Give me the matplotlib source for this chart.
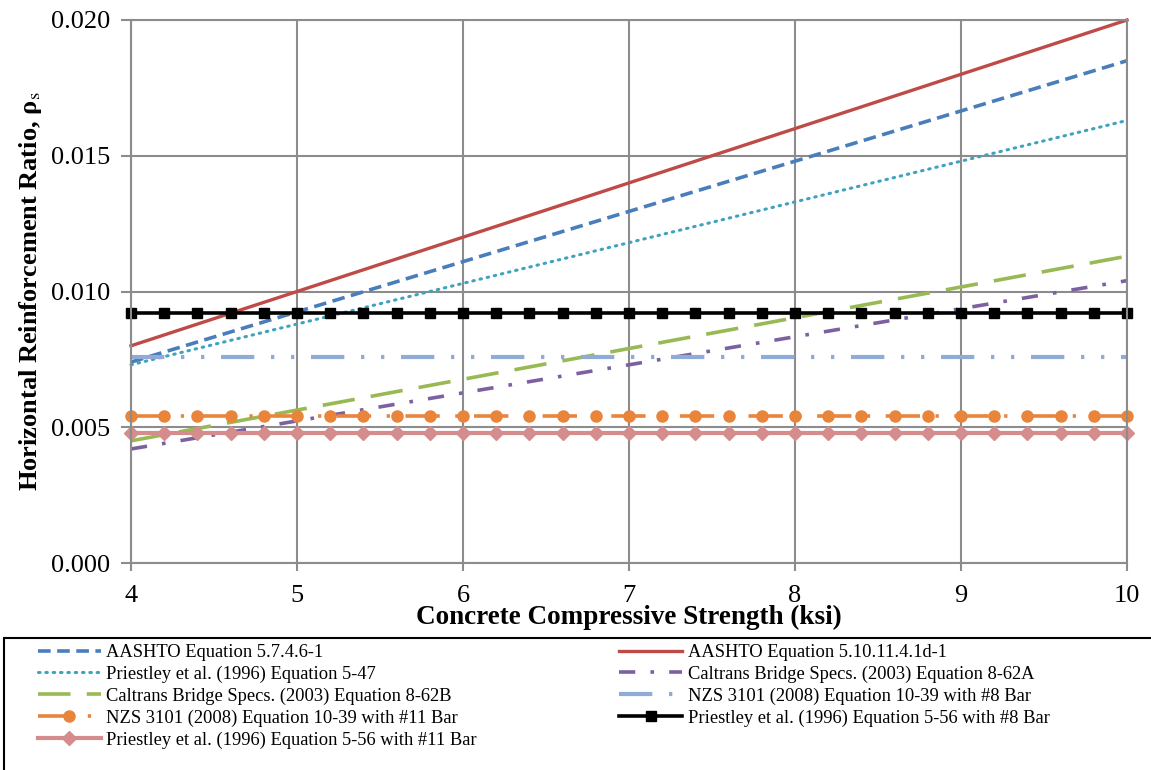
import numpy as np
import matplotlib
matplotlib.use('Agg')
from matplotlib import pyplot as plt
from matplotlib.patches import Rectangle

plt.rcParams['font.family'] = ['Liberation Serif', 'DejaVu Serif']
plt.rcParams['mathtext.fontset'] = 'stix'

# concrete strength (ksi), marker stations every 0.2 ksi
fc = [4.0, 4.2, 4.4, 4.6, 4.8, 5.0, 5.2, 5.4, 5.6, 5.8, 6.0, 6.2, 6.4, 6.6, 6.8, 7.0,
      7.2, 7.4, 7.6, 7.8, 8.0, 8.2, 8.4, 8.6, 8.8, 9.0, 9.2, 9.4, 9.6, 9.8, 10.0]
fc_ends = [4.0, 10.0]

# straight lines, read at f'c = 4 and 10 ksi
aashto_5746 = [0.0074, 0.0185]
aashto_5101 = [0.0080, 0.0200]
priestley_547 = [0.0073, 0.0163]
caltrans_62a = [0.0042, 0.0104]
caltrans_62b = [0.0045, 0.0113]

# constant lines
nzs_8 = [0.0076] * len(fc)
nzs_11 = [0.0054] * len(fc)
priestley_556_8 = [0.0092] * len(fc)
priestley_556_11 = [0.0048] * len(fc)

W, H = 1151, 770
fig = plt.figure(figsize=(W / 100, H / 100), dpi=100)
ax = fig.add_axes([131 / W, 1 - 563 / H, (1127 - 131) / W, (563 - 20) / H])

grid_c = '#8c8c8c'
ax.set_xlim(4, 10)
ax.set_ylim(0, 0.020)
ax.set_xticks([4, 5, 6, 7, 8, 9, 10])
ax.set_yticks([0, 0.005, 0.010, 0.015, 0.020])
ax.set_yticklabels(['%.3f' % v for v in ax.get_yticks()])
ax.grid(True, color=grid_c, lw=1.5)
ax.set_axisbelow(True)
for s in ax.spines.values():
    s.set_color(grid_c)
    s.set_linewidth(1.5)
ax.tick_params(axis='both', colors=grid_c, labelcolor='black', labelsize=19,
               width=1.5)
ax.tick_params(axis='x', length=6, pad=10)
ax.tick_params(axis='y', length=7, pad=8)

lines = {}
lines['a1'], = ax.plot(fc_ends, aashto_5746, color='#4A7EBB', lw=2.6,
                       dashes=(3.5, 1.8), label='AASHTO Equation 5.7.4.6-1')
lines['a2'], = ax.plot(fc_ends, aashto_5101, color='#BE4B48', lw=2.4,
                       label='AASHTO Equation 5.10.11.4.1d-1')
lines['p1'], = ax.plot(fc_ends, priestley_547, color='#3FA2BE', lw=2.2,
                       dashes=(0.5, 1.9), dash_capstyle='round',
                       label='Priestley et al. (1996) Equation 5-47')
lines['c1'], = ax.plot(fc_ends, caltrans_62a, color='#7D60A0', lw=2.6,
                       dashes=(4.5, 4.2, 1.0, 4.2),
                       label='Caltrans Bridge Specs. (2003) Equation 8-62A')
lines['c2'], = ax.plot(fc_ends, caltrans_62b, color='#98B954', lw=2.6,
                       dashes=(9, 4.5),
                       label='Caltrans Bridge Specs. (2003) Equation 8-62B')
lines['n8'], = ax.plot(fc, nzs_8, color='#90ACD6', lw=3.0,
                       dashes=(8, 4, 0.8, 4, 0.8, 4),
                       label='NZS 3101 (2008) Equation 10-39 with #8 Bar')
lines['n11'], = ax.plot(fc, nzs_11, color='#E8853A', lw=2.6,
                        dashes=(9.5, 4.3, 0.9, 4.3), marker='o', ms=8,
                        label='NZS 3101 (2008) Equation 10-39 with #11 Bar')
lines['p8'], = ax.plot(fc, priestley_556_8, color='black', lw=2.6,
                       marker='s', ms=7.5,
                       label='Priestley et al. (1996) Equation 5-56 with #8 Bar')
lines['p11'], = ax.plot(fc, priestley_556_11, color='#D48C8C', lw=3.0,
                        marker='D', ms=7.5,
                        label='Priestley et al. (1996) Equation 5-56 with #11 Bar')
for l in lines.values():
    l.set_clip_on(False)

ax.set_xlabel('Concrete Compressive Strength (ksi)', fontsize=19.5,
              fontweight='bold')
ax.xaxis.set_label_coords(0.5, -0.078)
ax.set_ylabel(r'Horizontal Reinforcement Ratio, ρ$_{\mathrm{s}}$',
              fontsize=19, fontweight='bold')
ax.yaxis.set_label_coords(-0.087, 0.5)

# legend box runs off the bottom/right of the figure
fig.patches.append(Rectangle((4 / W, -0.1), 1.2, 0.1 + 1 - 638 / H,
                             transform=fig.transFigure, fill=False,
                             edgecolor='black', lw=1.5))
order = ['a1', 'p1', 'c2', 'n11', 'p11', 'a2', 'c1', 'n8', 'p8']
fig.legend([lines[k] for k in order], [lines[k].get_label() for k in order],
           loc='upper left', bbox_to_anchor=(38 / W, 1 - 644 / H), ncol=2,
           frameon=False, fontsize=13.3, handlelength=3.4, handletextpad=0.3,
           columnspacing=7.7, labelspacing=0.25, borderpad=0, borderaxespad=0)

fig.savefig('out.png', dpi=100)
